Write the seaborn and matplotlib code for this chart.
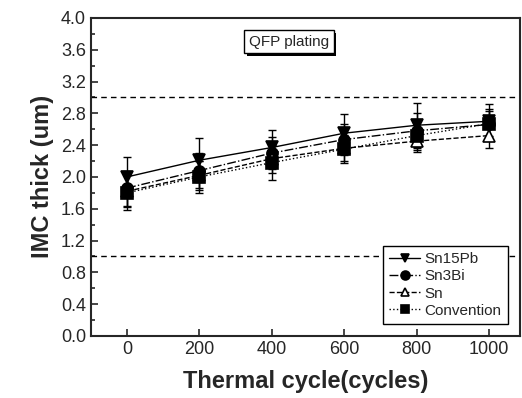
import numpy as np
import pandas as pd
import matplotlib.pyplot as plt
import seaborn as sns
from matplotlib.ticker import MultipleLocator, AutoMinorLocator
import matplotlib.patheffects as pe

# Data
cycles = [0, 200, 400, 600, 800, 1000]
sn15pb = [2.00, 2.21, 2.37, 2.55, 2.65, 2.70]
sn3bi = [1.86, 2.08, 2.30, 2.47, 2.58, 2.66]
sn = [1.82, 2.02, 2.23, 2.36, 2.45, 2.52]
convention = [1.80, 2.00, 2.18, 2.35, 2.52, 2.67]
err_sn15pb = [0.25, 0.28, 0.22, 0.24, 0.28, 0.22]
err_sn3bi = [0.22, 0.22, 0.20, 0.20, 0.22, 0.20]
err_sn = [0.20, 0.18, 0.18, 0.16, 0.14, 0.16]
err_convention = [0.22, 0.20, 0.22, 0.18, 0.18, 0.16]
names = ["Sn15Pb", "Sn3Bi", "Sn", "Convention"]
limits = [3.0, 1.0]

sns.set_style("ticks")
plt.rcParams['font.family'] = ['Liberation Sans', 'DejaVu Sans']

fig = plt.figure(figsize=(5.22, 3.98), dpi=100)
ax = fig.add_axes([0.174, 0.156, 0.822, 0.799])

series = [sn15pb, sn3bi, sn, convention]
errs = [err_sn15pb, err_sn3bi, err_sn, err_convention]
markers = ["v", "o", "^", "s"]
lstyles = ["-", "-.", "--", ":"]
faces = ["black", "black", "white", "black"]

for name, vals, e, m, ls, fc in zip(names, series, errs, markers, lstyles, faces):
    df = pd.DataFrame({"cycle": cycles, "thick": vals})
    ax.errorbar(cycles, vals, yerr=e, fmt="none", ecolor="black",
                elinewidth=1, capsize=3, capthick=1, zorder=2)
    sns.lineplot(data=df, x="cycle", y="thick", ax=ax, color="black",
                 linestyle=ls, linewidth=1, marker=m, markersize=8,
                 markerfacecolor=fc, markeredgecolor="black",
                 markeredgewidth=1.2, label=name, zorder=3)

for lim in limits:
    ax.axhline(lim, color="black", linestyle=(0, (4, 3)), linewidth=1, zorder=1)

ax.set_xlim(-100, 1085)
ax.set_ylim(0, 4.0)
ax.set_xticks(cycles)
ax.yaxis.set_major_locator(MultipleLocator(0.4))
ax.yaxis.set_minor_locator(AutoMinorLocator(2))
ax.yaxis.set_major_formatter(plt.FormatStrFormatter("%.1f"))
ax.tick_params(which="both", direction="in", labelsize=13, width=1.2)
ax.tick_params(which="major", length=5)
ax.tick_params(which="minor", length=3)
for s in ax.spines.values():
    s.set_linewidth(1.5)
    s.set_visible(True)

ax.set_xlabel("Thermal cycle(cycles)", fontsize=17, fontweight="bold", labelpad=9)
ax.set_ylabel("IMC thick (um)", fontsize=17, fontweight="bold", labelpad=5)

ax.text(447, 3.70, "QFP plating", fontsize=11, ha="center", va="center",
        bbox=dict(boxstyle="square,pad=0.3", fc="white", ec="black", lw=1,
                  path_effects=[pe.withSimplePatchShadow(offset=(2, -2), shadow_rgbFace="black", alpha=1)]))

leg = ax.legend(loc="lower right", fontsize=11, frameon=True, fancybox=False,
                edgecolor="black", framealpha=1, borderaxespad=0.8,
                handlelength=2.0, handletextpad=0.3, labelspacing=0.2,
                markerscale=0.8)
leg.get_frame().set_linewidth(1)

fig.savefig("out.png", dpi=100)
